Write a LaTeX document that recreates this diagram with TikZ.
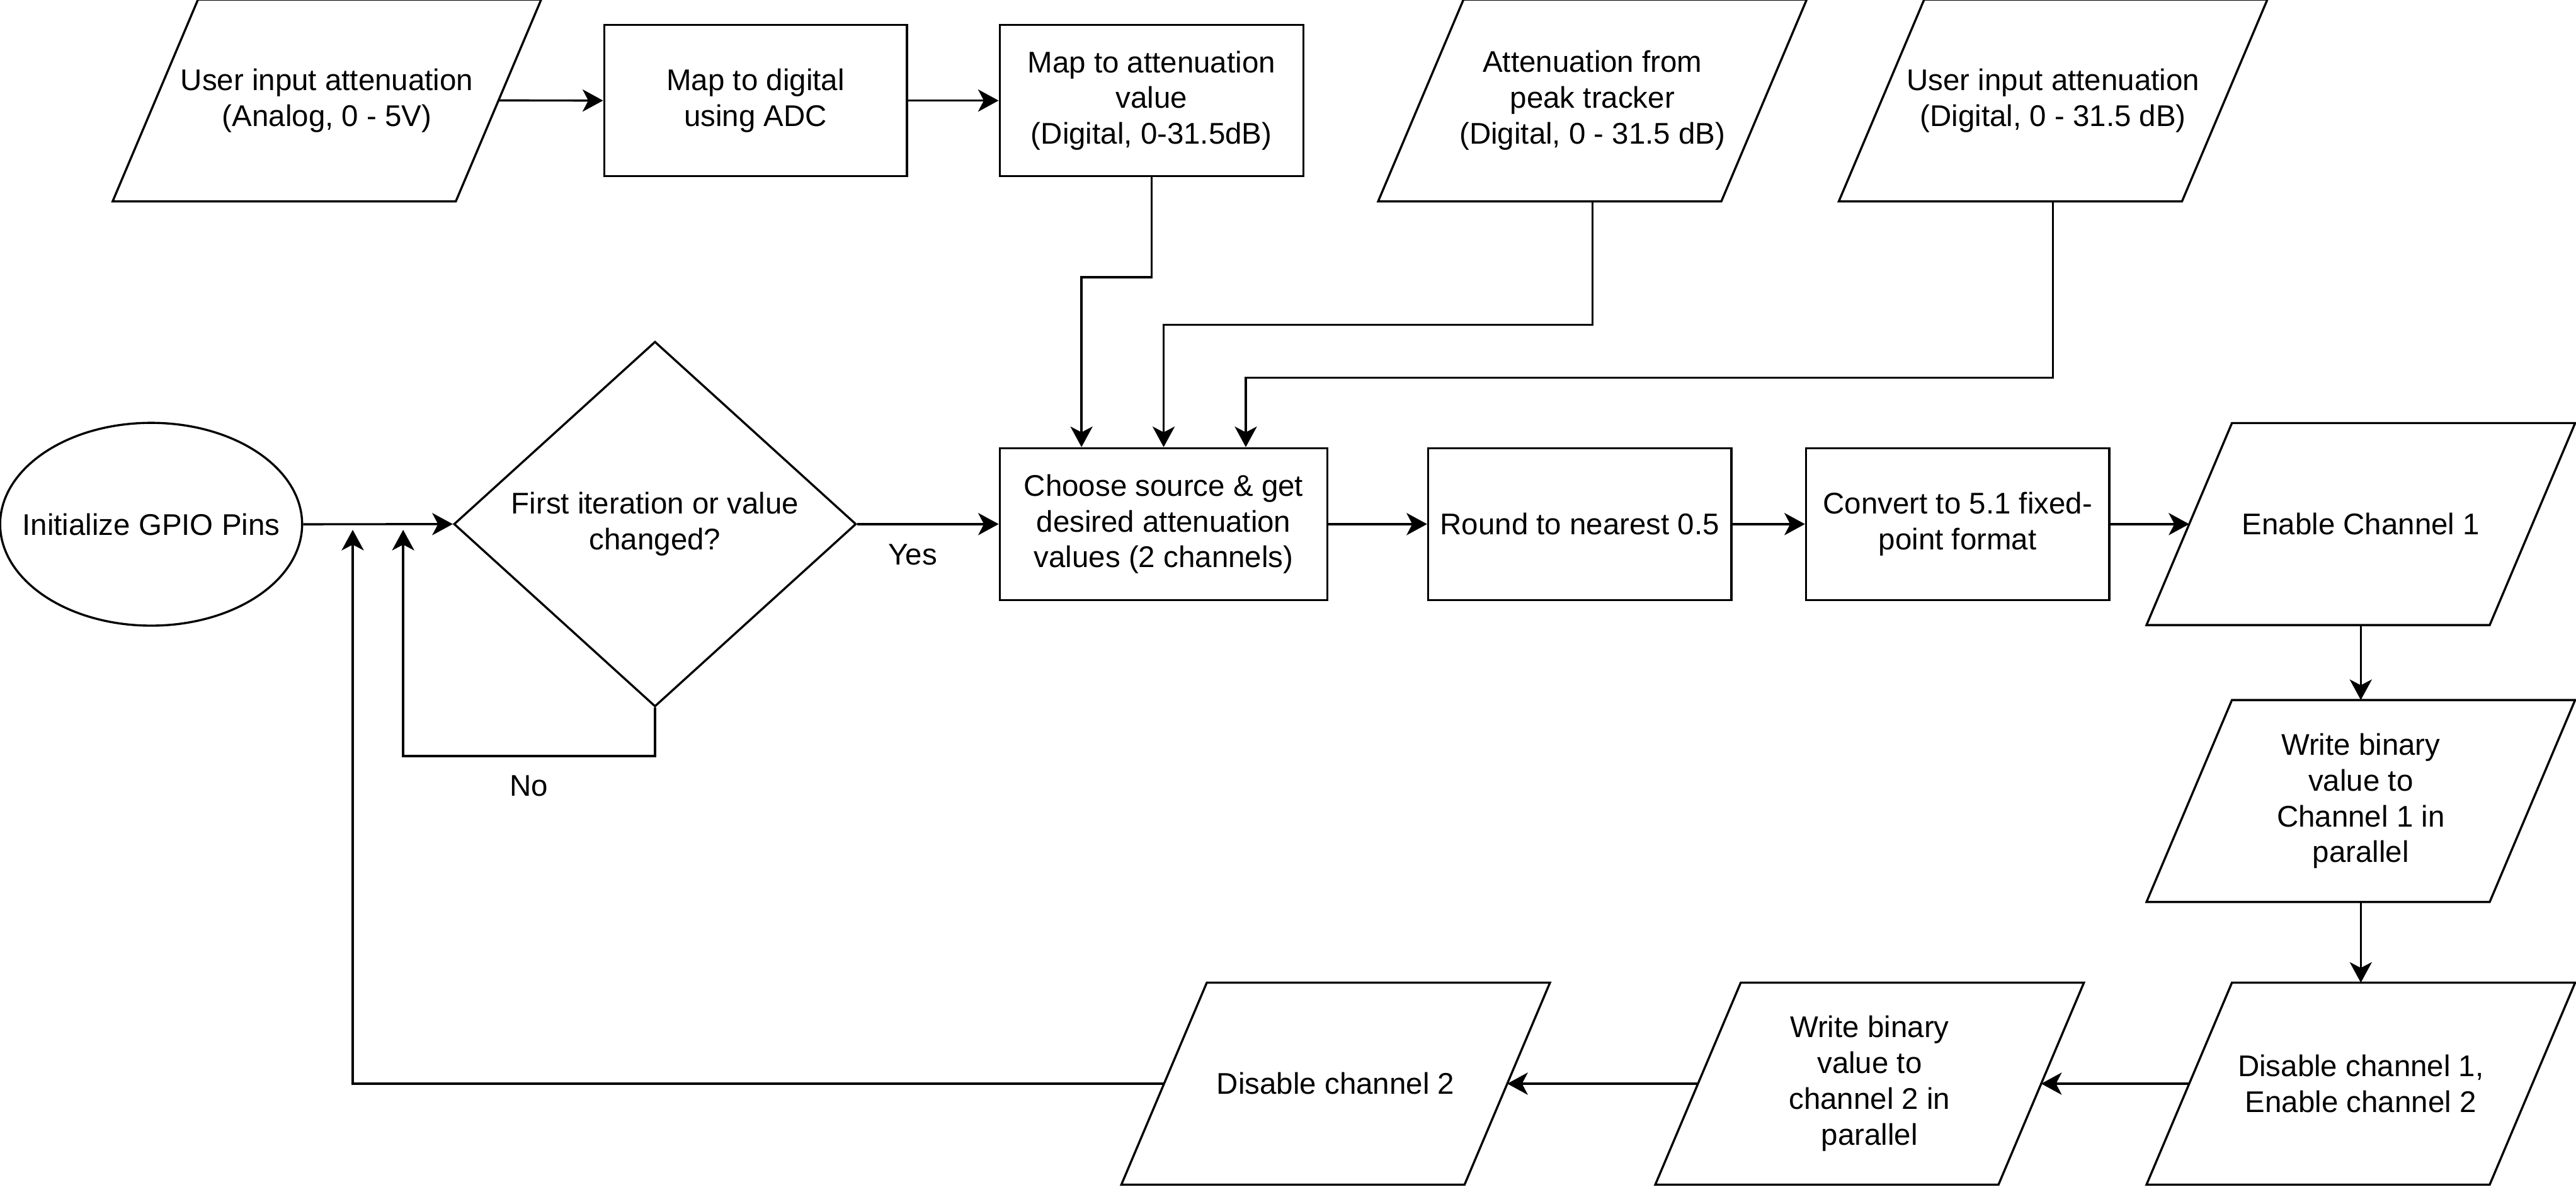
\documentclass[tikz,border=0pt]{standalone}
\usepackage{fontspec}
\setmainfont{Liberation Sans}
\usetikzlibrary{shapes.geometric,arrows.meta}
\begin{document}
\begin{tikzpicture}[x=1pt,y=-1pt,
  every node/.style={font=\fontsize{18.2}{21.8}\selectfont, align=center, inner sep=0pt},
  line/.style={line width=1.3pt, draw=black},
  box/.style={rectangle, line, minimum width=184.6pt, minimum height=92pt},
  para/.style={rectangle, draw=none, minimum width=208.5pt, minimum height=122.5pt},
  arr/.style={line width=1.3pt, -{Stealth[length=12.5pt, width=13.5pt, inset=3.5pt]}},
  lbl/.style={font=\fontsize{18.2}{21.8}\selectfont}
]
\fill[white] (0,0) rectangle (1568,722);
\useasboundingbox (0,0) rectangle (1568,722);

% top row
\node[para] (in1) at (199,61.1) {User input attenuation\\(Analog, 0 - 5V)};
\node[box, minimum width=184.3pt, minimum height=91.9pt] (adc) at (459.9,61.2) {Map to digital\\using ADC};
\node[box, minimum width=184.8pt, minimum height=91.9pt] (mapv) at (700.9,61.2) {Map to attenuation\\value\\(Digital, 0-31.5dB)};
\node[para] (peak) at (969.3,61.1) {Attenuation from\\peak tracker\\(Digital, 0 - 31.5 dB)};
\node[para] (in2) at (1249.7,61.1) {User input attenuation\\(Digital, 0 - 31.5 dB)};

% middle row
\node[ellipse, line, minimum width=183.8pt, minimum height=123.4pt] (init) at (92,319) {};
\node (inittext) at (init.center) {Initialize GPIO Pins};
\node[diamond, line, minimum width=244.9pt, minimum height=222.2pt] (dec) at (398.7,318.9) {First iteration or value\\changed?};
\node[box, minimum width=199.5pt, minimum height=92.4pt] (choose) at (708.3,318.9) {Choose source \& get\\desired attenuation\\values (2 channels)};
\node[box, minimum height=92.4pt] (round) at (961.6,318.9) {Round to nearest 0.5};
\node[box, minimum height=92.4pt] (conv) at (1191.6,318.9) {Convert to 5.1 fixed-\\point format};
\node[para] (en1) at (1437,318.9) {Enable Channel 1};

% right column and bottom row
\node[para] (wb1) at (1437,487.4) {Write binary\\value to\\Channel 1 in\\parallel};
\node[para] (dis1) at (1437,659.4) {Disable channel 1,\\Enable channel 2};
\node[para] (wb2) at (1138,659.4) {Write binary\\value to\\channel 2 in\\parallel};
\node[para] (dis2) at (813,659.4) {Disable channel 2};

% parallelogram outlines
\foreach \n in {in1,peak,in2,en1,wb1,dis1,wb2,dis2}{
  \draw[line, line join=miter] ([xshift=26pt]\n.north west) -- ([xshift=26pt]\n.north east)
    -- ([xshift=-26pt]\n.south east) -- ([xshift=-26pt]\n.south west) -- cycle;
}

% labels
\node[lbl] (yes) at (555.6,337.5) {Yes};
\node[lbl] (no) at (322,478.3) {No};

% helper coordinates
\coordinate (j1) at (658.3,168.7);
\coordinate (j2) at (708.3,197.6);
\coordinate (j3) at (758.3,229.9);
\coordinate (j4) at (245.4,460);
\coordinate (j5) at (245.4,318.9);
\coordinate (j6) at (214.7,318.9);

% connectors
\draw[arr] (in1.east) -- (adc.west);
\draw[arr] (adc.east) -- (mapv.west);
\draw[arr] (mapv.south) |- (j1) -- (j1 |- choose.north);
\draw[arr] (peak.south) |- (j2) -- (choose.north);
\draw[arr] (in2.south) |- (j3) -- (j3 |- choose.north);
\draw[arr] (init.east) -- (dec.west);
\draw[arr] (dec.east) -- (choose.west);
\draw[arr, shorten >=3.5pt] (dec.south) |- (j4) -- (j5);
\draw[arr] (choose.east) -- (round.west);
\draw[arr] (round.east) -- (conv.west);
\draw[arr] (conv.east) -- (en1.west);
\draw[arr] (en1.south) -- (wb1.north);
\draw[arr] (wb1.south) -- (dis1.north);
\draw[arr] (dis1.west) -- (wb2.east);
\draw[arr] (wb2.west) -- (dis2.east);
\draw[arr, shorten >=3.5pt] (dis2.west) -| (j6);
\end{tikzpicture}
\end{document}
